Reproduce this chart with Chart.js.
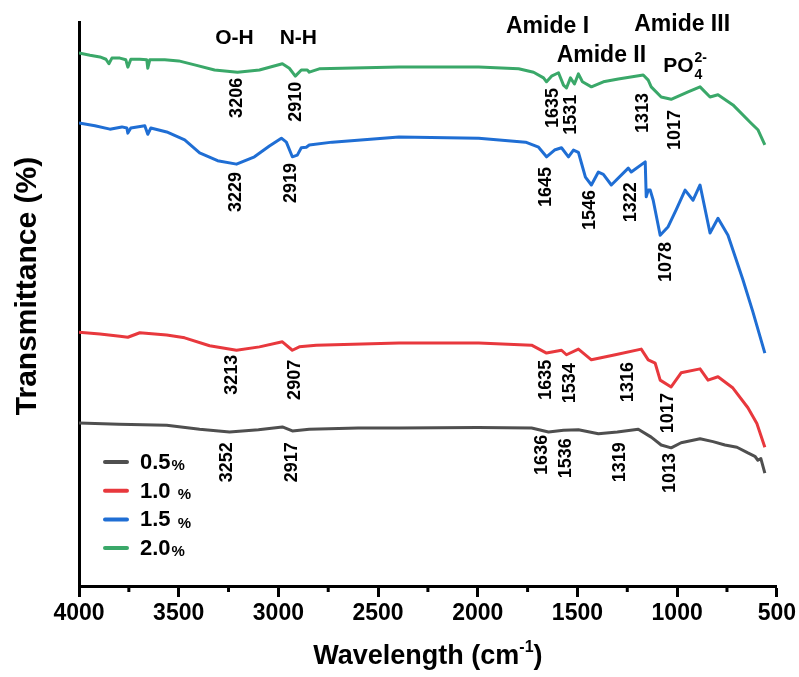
<!DOCTYPE html>
<html>
<head>
<meta charset="utf-8">
<script src="https://cdn.jsdelivr.net/npm/chart.js@4.4.1/dist/chart.umd.min.js"></script>
<style>
  html, body { margin: 0; padding: 0; background: #fff; }
  #wrap { width: 799px; height: 677px; position: relative; }
</style>
</head>
<body>
<div id="wrap"><canvas id="ftirChart" width="799" height="677"></canvas></div>
<script>
// series labels and colours
const seriesNames = ['0.5', '1.0 ', '1.5 ', '2.0'];
const seriesColors = ['#4f4f4f', '#e8383d', '#1f6ed4', '#3aa869'];

// spectra: [wavenumber cm-1, transmittance (a.u.)]
const trace05 = [
    [4000, 28.9], [3800, 28.7], [3560, 28.5], [3395, 27.8], [3245, 27.3], [3100, 27.7],
    [2980, 28.2], [2930, 27.5], [2845, 27.8], [2600, 28.0], [2395, 28.0], [2000, 28.1],
    [1730, 28.0], [1645, 27.3], [1570, 27.6], [1495, 27.7], [1395, 27.0], [1300, 27.3],
    [1195, 27.8], [1130, 26.4], [1080, 25.0], [1030, 24.5], [980, 25.4], [885, 26.1],
    [820, 25.6], [760, 25.0], [700, 24.6], [645, 23.6], [610, 23.0], [595, 22.3],
    [580, 22.6], [560, 20.0]
];
const trace10 = [
    [4000, 45.0], [3895, 44.7], [3795, 44.3], [3755, 44.1], [3695, 44.9], [3560, 44.5],
    [3470, 44.0], [3345, 42.6], [3210, 41.8], [3095, 42.4], [2980, 43.3], [2930, 41.8],
    [2895, 42.4], [2810, 42.7], [2395, 43.1], [1995, 43.1], [1730, 42.7], [1655, 41.3],
    [1580, 41.8], [1555, 41.0], [1495, 42.0], [1430, 40.1], [1310, 41.0], [1180, 42.0],
    [1145, 40.1], [1110, 39.5], [1085, 36.5], [1030, 35.3], [980, 37.8], [885, 38.5],
    [845, 36.5], [795, 37.1], [720, 35.1], [645, 31.6], [600, 28.8], [560, 24.6]
];
const trace15 = [
    [4000, 82.1], [3920, 81.6], [3845, 81.0], [3785, 81.4], [3760, 81.2], [3755, 80.3],
    [3740, 81.2], [3670, 81.6], [3655, 80.1], [3640, 81.2], [3560, 80.5], [3470, 79.1],
    [3395, 76.8], [3305, 75.4], [3210, 74.8], [3120, 76.1], [3045, 78.0], [2985, 79.4],
    [2960, 78.7], [2930, 76.1], [2905, 76.4], [2885, 77.7], [2860, 77.8], [2845, 78.2],
    [2730, 78.7], [2395, 79.6], [1995, 79.4], [1760, 78.7], [1695, 77.8], [1655, 76.1],
    [1615, 77.3], [1580, 77.7], [1545, 76.1], [1520, 77.3], [1495, 76.9], [1480, 75.0],
    [1460, 72.5], [1430, 71.1], [1395, 73.4], [1370, 73.0], [1330, 71.1], [1245, 74.1],
    [1230, 73.4], [1160, 75.2], [1155, 69.0], [1145, 70.2], [1135, 70.2], [1120, 68.4],
    [1085, 62.2], [1045, 63.7], [1005, 66.7], [960, 70.2], [920, 68.4], [885, 71.1],
    [835, 62.6], [795, 65.2], [745, 62.2], [670, 54.3], [620, 48.6], [560, 41.3]
];
const trace20 = [
    [4000, 94.5], [3945, 94.1], [3895, 93.8], [3865, 93.4], [3850, 92.6], [3835, 93.6],
    [3795, 93.6], [3765, 93.3], [3755, 92.0], [3740, 93.4], [3695, 93.4], [3660, 93.3],
    [3655, 91.8], [3645, 93.3], [3570, 93.3], [3500, 93.1], [3420, 92.4], [3320, 91.5],
    [3205, 91.1], [3095, 91.5], [2980, 92.6], [2945, 91.8], [2915, 90.4], [2885, 91.5],
    [2855, 91.5], [2845, 91.1], [2795, 91.7], [2395, 92.0], [1995, 92.0], [1795, 91.7],
    [1720, 91.1], [1670, 90.1], [1655, 89.4], [1630, 90.4], [1595, 91.0], [1570, 88.8],
    [1555, 88.3], [1535, 90.1], [1515, 89.0], [1495, 90.8], [1475, 89.4], [1430, 88.5],
    [1370, 89.4], [1295, 89.9], [1170, 90.6], [1145, 89.7], [1130, 88.5], [1080, 86.7],
    [1030, 86.3], [945, 87.6], [885, 88.5], [835, 86.7], [795, 87.1], [720, 85.3],
    [630, 82.1], [595, 80.9], [560, 78.2]
];
const traces = [trace05, trace10, trace15, trace20];

// x ticks
const xTicks = [4000, 3500, 3000, 2500, 2000, 1500, 1000, 500];
const xMinorTicks = [3750, 3250, 2750, 2250, 1750, 1250, 750];

// peak labels: text, wavenumber, top of the text (transmittance)
const peakText = ['3206', '2910', '1635', '1531', '1313', '1017',
                  '3229', '2919', '1645', '1546', '1322', '1078',
                  '3213', '2907', '1635', '1534', '1316', '1017',
                  '3252', '2917', '1636', '1536', '1319', '1013'];
const peakWave = [3205, 2910, 1620, 1530, 1170, 1010,
                  3210, 2935, 1660, 1435, 1230, 1055,
                  3230, 2915, 1660, 1535, 1245, 1045,
                  3260, 2930, 1680, 1555, 1285, 1035];
const peakTop = [90.1, 89.4, 88.3, 87.1, 87.4, 84.4,
                 73.4, 75.0, 74.3, 70.2, 71.6, 61.0,
                 41.0, 40.1, 40.1, 39.5, 39.7, 34.2,
                 25.5, 25.5, 26.8, 26.2, 25.5, 23.6];

// band names above the spectra
const bandText = ['O-H', 'N-H', 'Amide I', 'Amide II', 'Amide III'];
const bandWave = [3220, 2900, 1650, 1380, 975];
const bandLevel = [97.2, 97.2, 99.1, 94.1, 99.6];
const bandSize = [21, 21, 23, 23, 23];

const FONT = "'Liberation Sans', Arial, sans-serif";

// draws labels, legend, titles and minor ticks
const decorPlugin = {
    id: 'decor',
    afterDraw(chart) {
        const ctx = chart.ctx;
        const xs = chart.scales.x;
        const ys = chart.scales.y;
        const area = chart.chartArea;

        ctx.save();
        ctx.fillStyle = '#000';
        ctx.strokeStyle = '#000';

        // minor ticks
        ctx.lineWidth = 3;
        xMinorTicks.forEach(w => {
            const px = xs.getPixelForValue(w);
            ctx.beginPath();
            ctx.moveTo(px, area.bottom);
            ctx.lineTo(px, area.bottom + 6);
            ctx.stroke();
        });

        // peak labels, rotated
        ctx.font = `bold 18px ${FONT}`;
        ctx.textAlign = 'right';
        ctx.textBaseline = 'middle';
        peakText.forEach((t, i) => {
            const px = xs.getPixelForValue(peakWave[i]);
            const py = ys.getPixelForValue(peakTop[i]);
            ctx.save();
            ctx.translate(px, py);
            ctx.rotate(-Math.PI / 2);
            ctx.fillText(t, 0, 0);
            ctx.restore();
        });

        // band names
        ctx.textAlign = 'center';
        bandText.forEach((t, i) => {
            ctx.font = `bold ${bandSize[i]}px ${FONT}`;
            ctx.fillText(t, xs.getPixelForValue(bandWave[i]), ys.getPixelForValue(bandLevel[i]));
        });

        // PO4 2-
        const poX = xs.getPixelForValue(1070);
        const poY = ys.getPixelForValue(92.1);
        ctx.textAlign = 'left';
        ctx.font = `bold 21px ${FONT}`;
        ctx.fillText('PO', poX, poY);
        const poW = ctx.measureText('PO').width;
        ctx.font = `bold 14px ${FONT}`;
        ctx.fillText('4', poX + poW + 1, poY + 9);
        ctx.fillText('2-', poX + poW + 1, poY - 8);

        // legend
        const lx = area.left + 26;
        seriesNames.forEach((name, i) => {
            const ly = area.top + 440 + i * 28.7;
            ctx.strokeStyle = seriesColors[i];
            ctx.lineWidth = 4;
            ctx.lineCap = 'round';
            ctx.beginPath();
            ctx.moveTo(lx, ly);
            ctx.lineTo(lx + 22, ly);
            ctx.stroke();
            ctx.fillStyle = '#000';
            ctx.font = `bold 22px ${FONT}`;
            ctx.fillText(name, lx + 35, ly + 1);
            const nw = ctx.measureText(name).width;
            ctx.font = `bold 15px ${FONT}`;
            ctx.fillText('%', lx + 36 + nw, ly + 4);
        });

        // x title with superscript
        ctx.fillStyle = '#000';
        ctx.textBaseline = 'alphabetic';
        ctx.font = `bold 27px ${FONT}`;
        const t1 = 'Wavelength (cm';
        const w1 = ctx.measureText(t1).width;
        ctx.font = `bold 16px ${FONT}`;
        const w2 = ctx.measureText('-1').width;
        ctx.font = `bold 27px ${FONT}`;
        const w3 = ctx.measureText(')').width;
        const cx = (area.left + area.right) / 2;
        let sx = cx - (w1 + w2 + w3) / 2;
        const by = 664;
        ctx.fillText(t1, sx, by);
        ctx.font = `bold 16px ${FONT}`;
        ctx.fillText('-1', sx + w1, by - 12);
        ctx.font = `bold 27px ${FONT}`;
        ctx.fillText(')', sx + w1 + w2, by);

        // y title
        ctx.save();
        ctx.translate(28, 286);
        ctx.rotate(-Math.PI / 2);
        ctx.textAlign = 'center';
        ctx.textBaseline = 'middle';
        ctx.font = `bold 30px ${FONT}`;
        ctx.fillText('Transmittance (%)', 0, 0);
        ctx.restore();

        ctx.restore();
    }
};

const ctx = document.getElementById('ftirChart').getContext('2d');

new Chart(ctx, {
    type: 'line',
    data: {
        datasets: traces.map((tr, i) => ({
            label: seriesNames[i] + '%',
            data: tr.map(p => ({ x: p[0], y: p[1] })),
            borderColor: seriesColors[i],
            borderWidth: 3,
            pointRadius: 0,
            tension: 0,
            borderJoinStyle: 'round',
            fill: false
        }))
    },
    options: {
        responsive: false,
        animation: false,
        layout: { padding: { top: 22, right: 22, left: 0, bottom: 0 } },
        plugins: {
            legend: { display: false },
            tooltip: { enabled: false }
        },
        scales: {
            x: {
                type: 'linear',
                min: 500,
                max: 4000,
                reverse: true,
                afterBuildTicks: scale => {
                    scale.ticks = xTicks.map(v => ({ value: v }));
                },
                afterFit: scale => { scale.height = 91; },
                ticks: {
                    color: '#000',
                    font: { family: FONT, size: 23, weight: 'bold' },
                    padding: 3,
                    maxRotation: 0,
                    autoSkip: false,
                    callback: value => String(value)
                },
                grid: {
                    display: true,
                    drawOnChartArea: false,
                    drawTicks: true,
                    tickLength: 11,
                    tickWidth: 3,
                    tickColor: '#000'
                },
                border: { display: true, color: '#000', width: 3 }
            },
            y: {
                min: 0,
                max: 100,
                afterFit: scale => { scale.width = 79; },
                ticks: { display: false },
                grid: { display: false },
                border: { display: true, color: '#000', width: 3 }
            }
        }
    },
    plugins: [decorPlugin]
});
</script>
</body>
</html>
